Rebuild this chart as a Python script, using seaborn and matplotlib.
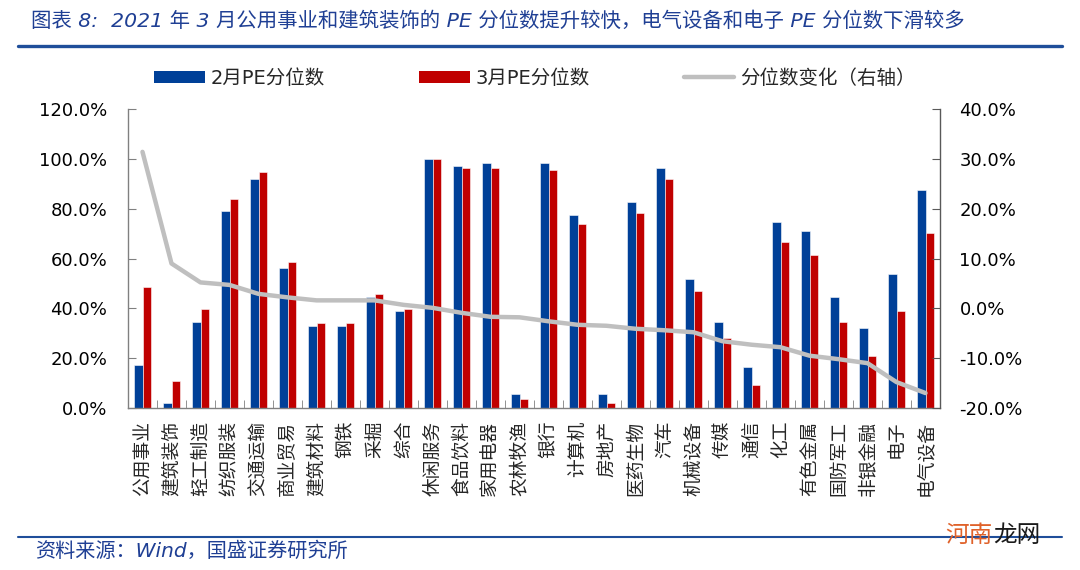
import matplotlib
matplotlib.use('Agg')
import matplotlib.pyplot as plt
import seaborn as sns
import pandas as pd
import numpy as np
from matplotlib.patches import Patch
from matplotlib.lines import Line2D
from matplotlib.ticker import FuncFormatter, FixedLocator

categories = ['公用事业', '建筑装饰', '轻工制造', '纺织服装', '交通运输', '商业贸易', '建筑材料',
              '钢铁', '采掘', '综合', '休闲服务', '食品饮料', '家用电器', '农林牧渔', '银行',
              '计算机', '房地产', '医药生物', '汽车', '机械设备', '传媒', '通信', '化工',
              '有色金属', '国防军工', '非银金融', '电子', '电气设备']
pe_feb = [17.3, 1.9, 34.5, 79.1, 91.9, 56.3, 32.8, 32.8, 44.5, 39.1, 100.0, 97.3, 98.3, 5.6,
          98.3, 77.3, 5.6, 82.7, 96.5, 51.9, 34.6, 16.5, 74.6, 71.0, 44.7, 32.0, 53.9, 87.5]
pe_mar = [48.6, 10.7, 39.6, 83.7, 94.6, 58.6, 34.1, 34.1, 45.9, 39.6, 100.0, 96.3, 96.3, 3.7,
          95.7, 74.0, 2.0, 78.4, 92.0, 47.0, 28.1, 9.2, 66.8, 61.4, 34.4, 20.9, 38.9, 70.4]
change = [31.4, 9.0, 5.2, 4.7, 2.9, 2.2, 1.6, 1.6, 1.6, 0.7, 0.1, -0.9, -1.7, -1.8,
          -2.6, -3.3, -3.5, -4.1, -4.4, -4.8, -6.6, -7.3, -7.8, -9.5, -10.2, -11.0, -14.8, -17.0]
series_names = ['2月PE分位数', '3月PE分位数', '分位数变化（右轴）']
left_ticks = [0, 20, 40, 60, 80, 100, 120]
right_ticks = [-20, -10, 0, 10, 20, 30, 40]
title = '图表 8:  2021 年 3 月公用事业和建筑装饰的 PE 分位数提升较快，电气设备和电子 PE 分位数下滑较多'
source = '资料来源：Wind，国盛证券研究所'

BLUE = '#004098'
RED = '#C00000'
GRAY = '#BFBFBF'
NAVY = '#1F3F94'

sns.set_style('white')
plt.rcParams['font.family'] = ['DejaVu Sans', 'Noto Sans CJK SC']
plt.rcParams['axes.unicode_minus'] = False

n = len(categories)
df = pd.DataFrame({
    '行业': categories * 2,
    '分位数': pe_feb + pe_mar,
    '月份': [series_names[0]] * n + [series_names[1]] * n,
})

fig = plt.figure(figsize=(10.8, 5.7), dpi=100)
ax = fig.add_axes([128 / 1080, 1 - 408 / 570, 812 / 1080, 299 / 570])

sns.barplot(data=df, x='行业', y='分位数', hue='月份', palette=[BLUE, RED], width=0.57,
            saturation=1, ax=ax, legend=False, edgecolor=(1, 1, 1, 0.55), linewidth=0.7)
ax.set_xlim(-0.5, n - 0.5)
ax.set_ylim(left_ticks[0], left_ticks[-1])
ax.set_yticks(left_ticks)
ax.yaxis.set_major_formatter(FuncFormatter(lambda v, p: f'{v:.1f}%'))
ax.set_xlabel('')
ax.set_ylabel('')
ax.tick_params(axis='y', direction='in', length=6, pad=15, labelsize=13, color='#808080',
               labelcolor='black', left=True)
ax.tick_params(axis='x', which='major', length=0, pad=9, labelsize=13.5, labelrotation=90)
ax.xaxis.set_minor_locator(FixedLocator(np.arange(0.5, n - 1, 1.0)))
ax.tick_params(axis='x', which='minor', direction='in', length=6, color='#808080', bottom=True)
for lab in ax.get_xticklabels():
    lab.set_fontfamily(['Noto Sans CJK SC'])
    lab.set_va('top')
for s in ['top', 'right']:
    ax.spines[s].set_visible(False)
ax.spines['left'].set_color('#808080')
ax.spines['bottom'].set_color('#808080')
ax.spines['left'].set_linewidth(1.0)
ax.spines['bottom'].set_linewidth(1.0)

ax2 = ax.twinx()
sns.lineplot(x=np.arange(n), y=change, ax=ax2, color=GRAY, linewidth=3.2, sort=False)
ax2.set_ylim(right_ticks[0], right_ticks[-1])
ax2.set_yticks(right_ticks)
ax2.yaxis.set_major_formatter(FuncFormatter(lambda v, p: f'{v:.1f}%'))
ax2.set_ylabel('')
ax2.tick_params(axis='y', direction='in', length=6, pad=14, labelsize=13, color='#595959',
                labelcolor='black', right=True)
for s in ['top', 'left', 'bottom']:
    ax2.spines[s].set_visible(False)
ax2.spines['right'].set_color('#595959')
ax2.spines['right'].set_linewidth(1.0)
ax2.set_xlim(-0.5, n - 0.5)

handles = [Patch(facecolor=BLUE, edgecolor='none'), Patch(facecolor=RED, edgecolor='none'),
           Line2D([], [], color=GRAY, linewidth=3.2)]
fig.legend(handles, series_names, loc='center left', bbox_to_anchor=(154 / 1080, 1 - 78 / 570),
           ncol=3, frameon=False, fontsize=14, handlelength=2.6, handleheight=0.57,
           handletextpad=0.3, columnspacing=4.85, borderpad=0, borderaxespad=0)

fig.text(31 / 1080, 1 - 21 / 570, title, fontsize=14.7, style='italic', color=NAVY,
         ha='left', va='center')
fig.add_artist(Line2D([18 / 1080, 1062 / 1080], [1 - 46 / 570] * 2, color='#1F4E9A', lw=2.4))
fig.add_artist(Line2D([18 / 1080, 1062 / 1080], [1 - 537 / 570] * 2, color='#1F4E9A', lw=1.5))
fig.text(35 / 1080, 1 - 551 / 570, source, fontsize=14.5, style='italic', color=NAVY,
         ha='left', va='center')
fig.text(945 / 1080, 1 - 535 / 570, '河南', fontsize=17, color='#E0622A', ha='left', va='center',
         family=['Noto Sans CJK SC'])
fig.text(993 / 1080, 1 - 535 / 570, '龙网', fontsize=17, color='#1A1A1A', ha='left', va='center',
         family=['Noto Sans CJK SC'])

fig.savefig('out.png', dpi=100)
